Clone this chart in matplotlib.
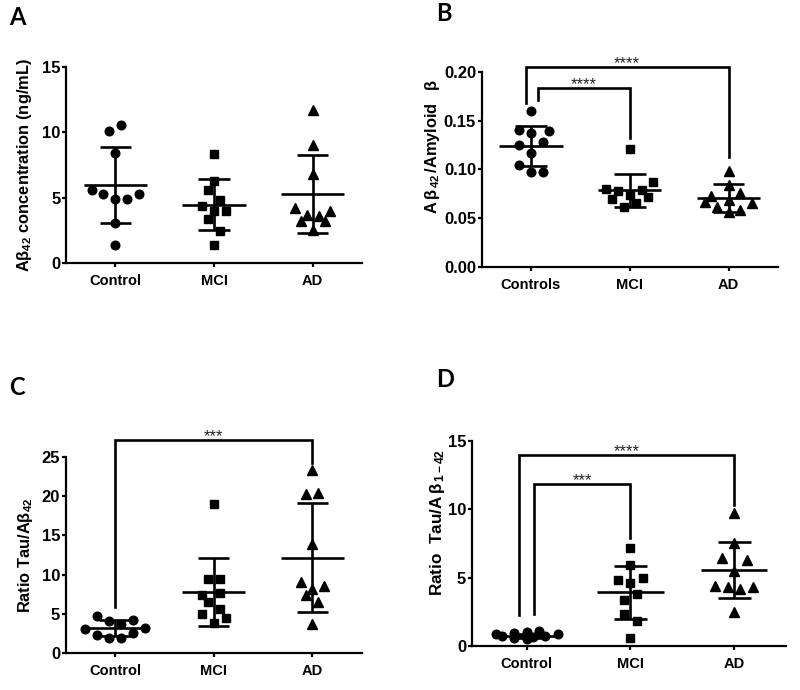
import numpy as np
import matplotlib
matplotlib.use('Agg')
import matplotlib.pyplot as plt

plt.rcParams['font.family'] = ['Liberation Sans', 'DejaVu Sans']
plt.rcParams['mathtext.fontset'] = 'custom'
plt.rcParams['mathtext.rm'] = 'Liberation Sans:bold'
plt.rcParams['mathtext.it'] = 'Liberation Sans:bold:italic'
plt.rcParams['mathtext.bf'] = 'Liberation Sans:bold'
plt.rcParams['mathtext.default'] = 'rm'

# ---- data ----
# Panel A: Abeta42 concentration (ng/mL)
groups_a = ['Control', 'MCI', 'AD']
a_control = [10.1, 10.6, 8.4, 5.6, 5.3, 4.9, 4.9, 5.3, 3.1, 1.4]
a_mci = [8.35, 6.25, 5.6, 4.85, 4.35, 3.95, 3.95, 3.35, 2.45, 1.4]
a_ad = [11.75, 9.0, 6.85, 4.25, 3.65, 4.0, 3.6, 3.2, 3.2, 2.5]
a_means = [6.0, 4.47, 5.29]
a_sds = [2.9, 1.96, 3.01]

# Panel B: Abeta42 / Amyloid beta
groups_b = ['Controls', 'MCI', 'AD']
b_control = [0.160, 0.140, 0.137, 0.139, 0.125, 0.128, 0.1166, 0.1046, 0.0978, 0.0978]
b_mci = [0.1206, 0.0869, 0.080, 0.078, 0.079, 0.0739, 0.0698, 0.0722, 0.066, 0.0613]
b_ad = [0.0988, 0.0842, 0.0763, 0.0729, 0.0688, 0.0671, 0.0654, 0.0613, 0.0586, 0.0569]
b_means = [0.1243, 0.0787, 0.0711]
b_sds = [0.0205, 0.0167, 0.0141]

# Panel C: ratio Tau / Abeta42
groups_c = ['Control', 'MCI', 'AD']
c_control = [4.78, 4.14, 3.72, 4.23, 3.05, 3.17, 2.33, 1.9, 1.9, 2.54]
c_mci = [18.94, 9.4, 9.4, 7.41, 7.63, 6.56, 5.59, 4.96, 4.45, 3.9]
c_ad = [23.3, 20.25, 20.42, 13.85, 9.02, 8.6, 8.17, 7.41, 6.48, 3.69]
c_means = [3.2, 7.81, 12.18]
c_sds = [1.06, 4.34, 6.89]

# Panel D: ratio Tau / Abeta1-42
groups_d = ['Control', 'MCI', 'AD']
d_control = [0.85, 0.72, 0.98, 0.55, 1.05, 0.5, 0.62, 1.1, 0.75, 0.88]
d_mci = [7.14, 5.92, 4.82, 4.94, 4.58, 3.77, 3.36, 2.31, 1.83, 0.61]
d_ad = [9.74, 7.5, 6.4, 6.28, 5.5, 4.41, 4.29, 4.16, 4.29, 2.51]
d_means = [0.75, 3.92, 5.55]
d_sds = [0.15, 1.96, 2.02]

# horizontal slots of the scatter (in half marker widths)
a_slots = [[-1, 1, 0, -4, -2, 0, 2, 4, 0, 0],
           [0, 0, -1, 1, -2, 0, 2, -1, 1, 0],
           [0, 0, 0, -3, -1, 3, 1, -2, 2, 0]]
b_slots = [[0, -2, 0, 3, -2, 2, 0, -2, 0, 2],
           [0, 4, -4, -2, 2, 0, -3, 3, 1, -1],
           [0, 0, 2, -3, 0, -4, 4, -2, 2, 0]]
c_slots = [[-3, -1, 1, 3, -5, 5, -3, -1, 1, 3],
           [0, -1, 1, -2, 1, -1, 1, -2, 2, 0],
           [0, -1, 1, 0, -2, 2, 0, -1, 1, 0]]
d_slots = [[-5, -4, -2, -2, 0, 0, 1, 2, 3, 5],
           [0, 0, -2, 2, 0, 1, -1, -1, 1, 0],
           [0, 0, -2, 2, 0, -3, -1, 1, 3, 0]]

# significance brackets: (left x, right x, top, left foot, right foot, stars)
b_sig = [(-0.055, 2, 0.2047, 0.1677, 0.113, '****'),
         (0.07, 1, 0.183, 0.171, 0.132, '****')]
c_sig = [(0, 2, 27.1, 5.93, 24.15, '***')]
d_sig = [(-0.074, 2, 13.95, 2.26, 10.3, '****'),
         (0.074, 1, 11.81, 2.32, 7.91, '***')]

SLOT = 0.06
LW = 1.9
markers = ['o', 's', '^']
msizes = [6.2, 5.8, 6.5]


def draw_panel(ax, labels, values, slots, means, sds, ymax, ystep, ylabel,
               fmt, sig, xleft=-0.5, labelpad=4, ylabel_size=11.8, label_xy=None):
    for i, (vals, sl) in enumerate(zip(values, slots)):
        x = i + np.array(sl) * SLOT
        ax.plot(x, vals, ls='none', marker=markers[i], ms=msizes[i],
                color='black', mec='black', clip_on=False, zorder=3)
        ax.hlines(means[i], i - 0.32, i + 0.32, color='black', lw=LW, zorder=4)
        ax.vlines(i, means[i] - sds[i], means[i] + sds[i], color='black', lw=LW, zorder=4)
        ax.hlines([means[i] - sds[i], means[i] + sds[i]], i - 0.16, i + 0.16,
                  color='black', lw=LW, zorder=4)
    for x1, x2, top, f1, f2, stars in sig:
        ax.plot([x1, x1, x2, x2], [f1, top, top, f2], color='black', lw=LW,
                clip_on=False, solid_joinstyle='miter')
        ax.annotate(stars, ((x1 + x2) / 2, top), xytext=(0, 2.8),
                    textcoords='offset points', ha='center', va='center',
                    fontsize=12, color='#222222', annotation_clip=False)
    ax.set_xlim(xleft, 2.5)
    ax.set_ylim(0, ymax)
    ax.set_xticks(range(3))
    ax.set_xticklabels(labels, fontsize=10.5, fontweight='bold')
    yt = np.arange(0, ymax + ystep / 2, ystep)
    ax.set_yticks(yt)
    ax.set_yticklabels([fmt.format(v) for v in yt], fontsize=12, fontweight='bold')
    ax.set_ylabel(ylabel, fontsize=ylabel_size, fontweight='bold', labelpad=labelpad)
    if label_xy is not None:
        ax.yaxis.set_label_coords(*label_xy)
    for s in ['top', 'right']:
        ax.spines[s].set_visible(False)
    for s in ['left', 'bottom']:
        ax.spines[s].set_linewidth(1.6)
    ax.tick_params(axis='both', width=1.6, length=3)
    ax.tick_params(axis='y', pad=1)
    ax.tick_params(axis='x', pad=5)


fig = plt.figure(figsize=(8, 6.9), dpi=100)
ax_a = fig.add_axes([0.0825, 0.6188, 0.37, 0.284])
ax_b = fig.add_axes([0.602, 0.6126, 0.3704, 0.2835])
ax_c = fig.add_axes([0.0821, 0.0532, 0.37, 0.2849])
ax_d = fig.add_axes([0.5896, 0.0638, 0.3929, 0.2975])

draw_panel(ax_a, groups_a, [a_control, a_mci, a_ad], a_slots, a_means, a_sds,
           15, 5, r'A$\beta_{42}$ concentration (ng/mL)', '{:.0f}', [], labelpad=6)
draw_panel(ax_b, groups_b, [b_control, b_mci, b_ad], b_slots, b_means, b_sds,
           0.20, 0.05, r'A$\,\beta_{\,42}\,$/Amyloid $\;\;\beta$', '{:.2f}', b_sig,
           label_xy=(-0.135, 0.62))
draw_panel(ax_c, groups_c, [c_control, c_mci, c_ad], c_slots, c_means, c_sds,
           25, 5, r'Ratio Tau/A$\beta_{42}$', '{:.0f}', c_sig, labelpad=5)
draw_panel(ax_d, groups_d, [d_control, d_mci, d_ad], d_slots, d_means, d_sds,
           15, 5, r'Ratio  Tau/A$\,\beta_{\,1\,{-}\,42}$', '{:.0f}', d_sig, xleft=-0.53,
           ylabel_size=12.3, label_xy=(-0.08, 0.6))

for lbl, x, y in [('A', 0.012, 0.992), ('B', 0.545, 0.997), ('C', 0.012, 0.455), ('D', 0.545, 0.466)]:
    fig.text(x, y, lbl, fontsize=17, fontweight='bold', family=['Lato', 'DejaVu Sans'],
             va='top', ha='left')

fig.savefig('out.png', dpi=100)
